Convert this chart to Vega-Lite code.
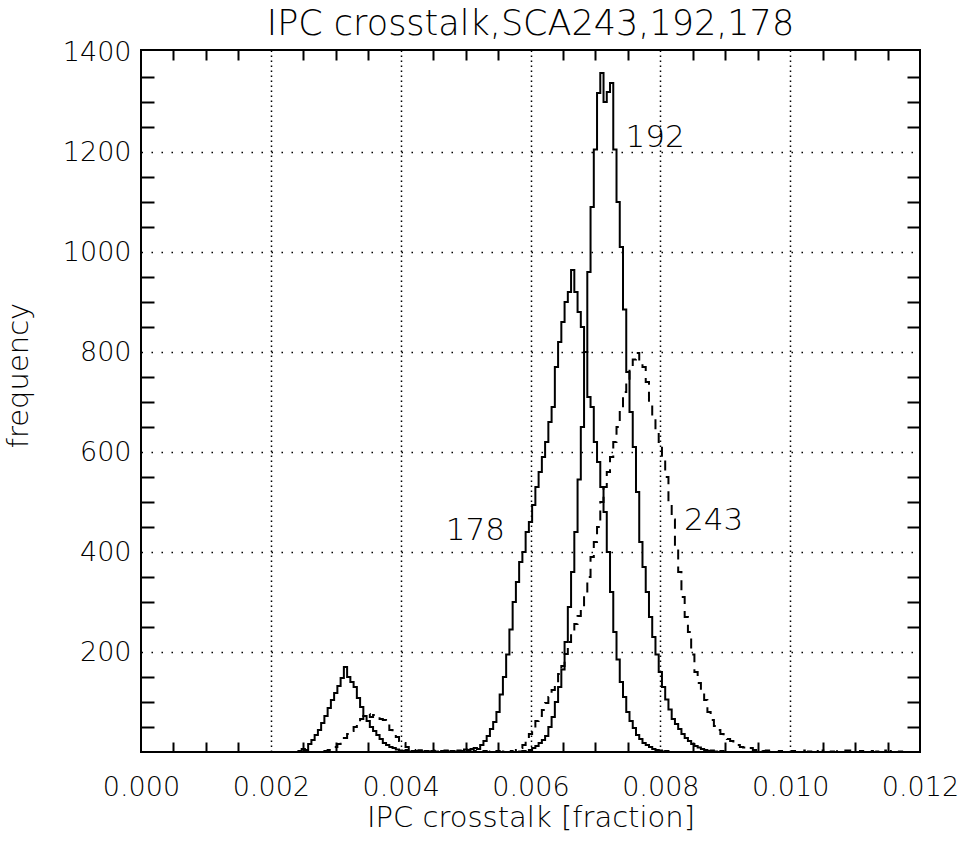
{
  "$schema": "https://vega.github.io/schema/vega-lite/v6.json",
  "width": 779,
  "height": 702,
  "autosize": "none",
  "padding": {"left": 141, "top": 50, "right": 44, "bottom": 91},
  "background": "white",
  "title": {"text": "IPC crosstalk,SCA243,192,178", "font": "DejaVu Sans", "fontSize": 35, "fontWeight": 200, "color": "black", "anchor": "middle", "frame": "group", "baseline": "alphabetic", "offset": -32},
  "config": {
    "view": {"stroke": "black", "strokeWidth": 2},
    "axis": {"domain": false, "labelFont": "DejaVu Sans", "labelFontSize": 27, "labelFontWeight": 200, "labelColor": "black", "titleFont": "DejaVu Sans", "titleFontSize": 29, "titleFontWeight": 200, "titleColor": "black", "tickColor": "black", "tickWidth": 2, "gridColor": "black", "gridOpacity": 1, "labelOverlap": false, "labelFlush": false, "labelBound": false}
  },
  "datasets": {
    "s178": [
      {"x":0.00240,"y":0},{"x":0.00245,"y":2},{"x":0.00250,"y":6},{"x":0.00255,"y":4},{"x":0.00260,"y":16},{"x":0.00265,"y":24},{"x":0.00270,"y":34},{"x":0.00275,"y":44},{"x":0.00280,"y":58},{"x":0.00285,"y":72},{"x":0.00290,"y":88},{"x":0.00295,"y":104},{"x":0.00300,"y":118},{"x":0.00305,"y":132},{"x":0.00310,"y":148},{"x":0.00315,"y":170},{"x":0.00320,"y":150},{"x":0.00325,"y":140},{"x":0.00330,"y":130},{"x":0.00335,"y":108},{"x":0.00340,"y":90},{"x":0.00345,"y":72},{"x":0.00350,"y":62},{"x":0.00355,"y":50},{"x":0.00360,"y":42},{"x":0.00365,"y":34},{"x":0.00370,"y":26},{"x":0.00375,"y":18},{"x":0.00380,"y":14},{"x":0.00385,"y":10},{"x":0.00390,"y":8},{"x":0.00395,"y":5},{"x":0.00400,"y":3},{"x":0.00405,"y":2},{"x":0.00410,"y":4},{"x":0.00415,"y":1},{"x":0.00420,"y":2},{"x":0.00425,"y":0},{"x":0.00430,"y":3},{"x":0.00435,"y":1},{"x":0.00440,"y":2},{"x":0.00445,"y":0},{"x":0.00450,"y":2},{"x":0.00455,"y":1},{"x":0.00460,"y":0},{"x":0.00465,"y":2},{"x":0.00470,"y":3},{"x":0.00475,"y":1},{"x":0.00480,"y":2},{"x":0.00485,"y":0},{"x":0.00490,"y":3},{"x":0.00495,"y":2},{"x":0.00500,"y":5},{"x":0.00505,"y":4},{"x":0.00510,"y":6},{"x":0.00515,"y":8},{"x":0.00520,"y":6},{"x":0.00525,"y":14},{"x":0.00530,"y":22},{"x":0.00535,"y":32},{"x":0.00540,"y":46},{"x":0.00545,"y":60},{"x":0.00550,"y":80},{"x":0.00555,"y":115},{"x":0.00560,"y":150},{"x":0.00565,"y":195},{"x":0.00570,"y":245},{"x":0.00575,"y":300},{"x":0.00580,"y":340},{"x":0.00585,"y":380},{"x":0.00590,"y":400},{"x":0.00595,"y":440},{"x":0.00600,"y":460},{"x":0.00605,"y":494},{"x":0.00610,"y":530},{"x":0.00615,"y":560},{"x":0.00620,"y":590},{"x":0.00625,"y":620},{"x":0.00630,"y":660},{"x":0.00635,"y":690},{"x":0.00640,"y":770},{"x":0.00645,"y":820},{"x":0.00650,"y":860},{"x":0.00655,"y":900},{"x":0.00660,"y":920},{"x":0.00665,"y":964},{"x":0.00670,"y":920},{"x":0.00675,"y":880},{"x":0.00680,"y":850},{"x":0.00685,"y":800},{"x":0.00690,"y":710},{"x":0.00695,"y":690},{"x":0.00700,"y":620},{"x":0.00705,"y":580},{"x":0.00710,"y":530},{"x":0.00715,"y":480},{"x":0.00720,"y":400},{"x":0.00725,"y":320},{"x":0.00730,"y":240},{"x":0.00735,"y":185},{"x":0.00740,"y":140},{"x":0.00745,"y":110},{"x":0.00750,"y":80},{"x":0.00755,"y":62},{"x":0.00760,"y":48},{"x":0.00765,"y":34},{"x":0.00770,"y":26},{"x":0.00775,"y":18},{"x":0.00780,"y":14},{"x":0.00785,"y":10},{"x":0.00790,"y":6},{"x":0.00795,"y":4},{"x":0.00800,"y":3},{"x":0.00805,"y":1},{"x":0.00810,"y":2},{"x":0.00815,"y":0}
    ],
    "s192": [
      {"x":0.00580,"y":0},{"x":0.00585,"y":1},{"x":0.00590,"y":2},{"x":0.00595,"y":0},{"x":0.00600,"y":4},{"x":0.00605,"y":8},{"x":0.00610,"y":12},{"x":0.00615,"y":18},{"x":0.00620,"y":24},{"x":0.00625,"y":32},{"x":0.00630,"y":50},{"x":0.00635,"y":70},{"x":0.00640,"y":100},{"x":0.00645,"y":130},{"x":0.00650,"y":165},{"x":0.00655,"y":220},{"x":0.00660,"y":290},{"x":0.00665,"y":360},{"x":0.00670,"y":440},{"x":0.00675,"y":545},{"x":0.00680,"y":650},{"x":0.00685,"y":800},{"x":0.00690,"y":960},{"x":0.00695,"y":1090},{"x":0.00700,"y":1205},{"x":0.00705,"y":1318},{"x":0.00710,"y":1358},{"x":0.00715,"y":1300},{"x":0.00720,"y":1320},{"x":0.00725,"y":1338},{"x":0.00730,"y":1205},{"x":0.00735,"y":1100},{"x":0.00740,"y":1010},{"x":0.00745,"y":885},{"x":0.00750,"y":760},{"x":0.00755,"y":680},{"x":0.00760,"y":610},{"x":0.00765,"y":520},{"x":0.00770,"y":420},{"x":0.00775,"y":370},{"x":0.00780,"y":320},{"x":0.00785,"y":270},{"x":0.00790,"y":230},{"x":0.00795,"y":195},{"x":0.00800,"y":160},{"x":0.00805,"y":130},{"x":0.00810,"y":105},{"x":0.00815,"y":85},{"x":0.00820,"y":66},{"x":0.00825,"y":56},{"x":0.00830,"y":46},{"x":0.00835,"y":36},{"x":0.00840,"y":28},{"x":0.00845,"y":22},{"x":0.00850,"y":16},{"x":0.00855,"y":12},{"x":0.00860,"y":9},{"x":0.00865,"y":6},{"x":0.00870,"y":4},{"x":0.00875,"y":2},{"x":0.00880,"y":3},{"x":0.00885,"y":1},{"x":0.00890,"y":0},{"x":0.00895,"y":2},{"x":0.00900,"y":0}
    ],
    "s243": [
      {"x":0.00280,"y":0},{"x":0.00285,"y":2},{"x":0.00290,"y":4},{"x":0.00295,"y":6},{"x":0.00300,"y":10},{"x":0.00305,"y":16},{"x":0.00310,"y":22},{"x":0.00315,"y":28},{"x":0.00320,"y":36},{"x":0.00325,"y":42},{"x":0.00330,"y":50},{"x":0.00335,"y":58},{"x":0.00340,"y":66},{"x":0.00345,"y":72},{"x":0.00350,"y":76},{"x":0.00355,"y":70},{"x":0.00360,"y":74},{"x":0.00365,"y":72},{"x":0.00370,"y":66},{"x":0.00375,"y":64},{"x":0.00380,"y":56},{"x":0.00385,"y":44},{"x":0.00390,"y":36},{"x":0.00395,"y":30},{"x":0.00400,"y":22},{"x":0.00405,"y":18},{"x":0.00410,"y":10},{"x":0.00415,"y":8},{"x":0.00420,"y":4},{"x":0.00425,"y":2},{"x":0.00430,"y":3},{"x":0.00435,"y":0},{"x":0.00440,"y":2},{"x":0.00445,"y":1},{"x":0.00450,"y":0},{"x":0.00455,"y":3},{"x":0.00460,"y":0},{"x":0.00465,"y":1},{"x":0.00470,"y":0},{"x":0.00475,"y":2},{"x":0.00480,"y":0},{"x":0.00485,"y":1},{"x":0.00490,"y":0},{"x":0.00495,"y":2},{"x":0.00500,"y":0},{"x":0.00505,"y":1},{"x":0.00510,"y":0},{"x":0.00515,"y":2},{"x":0.00520,"y":1},{"x":0.00525,"y":0},{"x":0.00530,"y":2},{"x":0.00535,"y":0},{"x":0.00540,"y":1},{"x":0.00545,"y":0},{"x":0.00550,"y":2},{"x":0.00555,"y":0},{"x":0.00560,"y":1},{"x":0.00565,"y":0},{"x":0.00570,"y":2},{"x":0.00575,"y":0},{"x":0.00580,"y":4},{"x":0.00585,"y":8},{"x":0.00590,"y":14},{"x":0.00595,"y":24},{"x":0.00600,"y":36},{"x":0.00605,"y":48},{"x":0.00610,"y":62},{"x":0.00615,"y":72},{"x":0.00620,"y":84},{"x":0.00625,"y":98},{"x":0.00630,"y":110},{"x":0.00635,"y":124},{"x":0.00640,"y":138},{"x":0.00645,"y":156},{"x":0.00650,"y":172},{"x":0.00655,"y":196},{"x":0.00660,"y":220},{"x":0.00665,"y":238},{"x":0.00670,"y":256},{"x":0.00675,"y":272},{"x":0.00680,"y":290},{"x":0.00685,"y":318},{"x":0.00690,"y":350},{"x":0.00695,"y":390},{"x":0.00700,"y":420},{"x":0.00705,"y":450},{"x":0.00710,"y":500},{"x":0.00715,"y":530},{"x":0.00720,"y":560},{"x":0.00725,"y":590},{"x":0.00730,"y":620},{"x":0.00735,"y":650},{"x":0.00740,"y":680},{"x":0.00745,"y":720},{"x":0.00750,"y":740},{"x":0.00755,"y":770},{"x":0.00760,"y":785},{"x":0.00765,"y":798},{"x":0.00770,"y":780},{"x":0.00775,"y":770},{"x":0.00780,"y":740},{"x":0.00785,"y":700},{"x":0.00790,"y":670},{"x":0.00795,"y":640},{"x":0.00800,"y":620},{"x":0.00805,"y":590},{"x":0.00810,"y":550},{"x":0.00815,"y":500},{"x":0.00820,"y":465},{"x":0.00825,"y":410},{"x":0.00830,"y":360},{"x":0.00835,"y":310},{"x":0.00840,"y":270},{"x":0.00845,"y":240},{"x":0.00850,"y":195},{"x":0.00855,"y":160},{"x":0.00860,"y":138},{"x":0.00865,"y":118},{"x":0.00870,"y":104},{"x":0.00875,"y":80},{"x":0.00880,"y":64},{"x":0.00885,"y":52},{"x":0.00890,"y":44},{"x":0.00895,"y":36},{"x":0.00900,"y":28},{"x":0.00905,"y":26},{"x":0.00910,"y":22},{"x":0.00915,"y":16},{"x":0.00920,"y":14},{"x":0.00925,"y":10},{"x":0.00930,"y":9},{"x":0.00935,"y":6},{"x":0.00940,"y":8},{"x":0.00945,"y":4},{"x":0.00950,"y":3},{"x":0.00955,"y":5},{"x":0.00960,"y":2},{"x":0.00965,"y":3},{"x":0.00970,"y":1},{"x":0.00975,"y":2},{"x":0.00980,"y":0},{"x":0.00985,"y":2},{"x":0.00990,"y":0},{"x":0.00995,"y":1},{"x":0.01000,"y":0},{"x":0.01005,"y":2},{"x":0.01010,"y":0},{"x":0.01020,"y":3},{"x":0.01025,"y":0},{"x":0.01030,"y":1},{"x":0.01035,"y":0},{"x":0.01040,"y":2},{"x":0.01045,"y":0},{"x":0.01055,"y":3},{"x":0.01060,"y":0},{"x":0.01065,"y":1},{"x":0.01070,"y":0},{"x":0.01075,"y":2},{"x":0.01080,"y":0},{"x":0.01090,"y":3},{"x":0.01095,"y":0},{"x":0.01100,"y":1},{"x":0.01105,"y":0},{"x":0.01110,"y":2},{"x":0.01115,"y":0},{"x":0.01125,"y":2},{"x":0.01130,"y":0},{"x":0.01135,"y":1},{"x":0.01140,"y":0},{"x":0.01145,"y":3},{"x":0.01150,"y":0},{"x":0.01160,"y":2},{"x":0.01165,"y":0},{"x":0.01170,"y":1},{"x":0.01175,"y":0}
    ],
    "labels": [
      {"x":0.00792,"y":1229,"t":"192"},
      {"x":0.00515,"y":442,"t":"178"},
      {"x":0.00882,"y":463,"t":"243"}
    ]
  },
  "resolve": {"axis": {"x": "independent", "y": "independent"}},
  "layer": [
    {
      "data": {"name": "labels"},
      "mark": {"type": "text", "font": "DejaVu Sans", "fontSize": 31, "fontWeight": 200, "color": "black", "align": "center", "baseline": "middle"},
      "encoding": {
        "x": {"field": "x", "type": "quantitative", "scale": {"domain": [0, 0.012], "nice": false, "zero": false},
          "axis": {"orient": "bottom", "grid": true, "gridDash": [1.5, 3.5], "gridWidth": 1.5, "values": [0.002, 0.004, 0.006, 0.008, 0.010], "labels": false, "ticks": false, "title": null}},
        "y": {"field": "y", "type": "quantitative", "scale": {"domain": [0, 1404], "nice": false, "zero": true},
          "axis": {"orient": "left", "grid": true, "gridDash": [1.5, 8.5], "gridWidth": 1.5, "values": [200, 400, 600, 800, 1000, 1200], "labels": false, "ticks": false, "title": null}},
        "text": {"field": "t", "type": "nominal"}
      }
    },
    {
      "data": {"name": "s178"},
      "mark": {"type": "line", "interpolate": "step", "color": "black", "strokeWidth": 2},
      "encoding": {
        "x": {"field": "x", "type": "quantitative", "scale": {"domain": [0, 0.012], "nice": false, "zero": false},
          "axis": {"orient": "bottom", "values": [0, 0.002, 0.004, 0.006, 0.008, 0.010, 0.012], "format": ".3f", "ticks": false, "tickSize": 0, "labelPadding": 22, "grid": false, "title": "IPC crosstalk [fraction]", "titlePadding": 3}},
        "y": {"field": "y", "type": "quantitative", "scale": {"domain": [0, 1404], "nice": false, "zero": true},
          "axis": {"orient": "left", "values": [200, 400, 600, 800, 1000, 1200, 1400], "format": "d", "ticks": false, "tickSize": 0, "labelPadding": 10, "grid": false, "title": "frequency", "titlePadding": 29, "titleY": 325}}
      }
    },
    {
      "data": {"name": "s192"},
      "mark": {"type": "line", "interpolate": "step", "color": "black", "strokeWidth": 2},
      "encoding": {
        "x": {"field": "x", "type": "quantitative", "scale": {"domain": [0, 0.012], "nice": false, "zero": false},
          "axis": {"orient": "bottom", "values": [0.0005, 0.001, 0.0015, 0.0025, 0.003, 0.0035, 0.0045, 0.005, 0.0055, 0.0065, 0.007, 0.0075, 0.0085, 0.009, 0.0095, 0.0105, 0.011, 0.0115], "tickSize": -10, "labels": false, "grid": false, "title": null}},
        "y": {"field": "y", "type": "quantitative", "scale": {"domain": [0, 1404], "nice": false, "zero": true},
          "axis": {"orient": "left", "values": [50, 100, 150, 250, 300, 350, 450, 500, 550, 650, 700, 750, 850, 900, 950, 1050, 1100, 1150, 1250, 1300, 1350], "tickSize": -13, "labels": false, "grid": false, "title": null}}
      }
    },
    {
      "data": {"name": "s243"},
      "mark": {"type": "line", "interpolate": "step", "color": "black", "strokeWidth": 2, "strokeDash": [10, 7]},
      "encoding": {
        "x": {"field": "x", "type": "quantitative", "scale": {"domain": [0, 0.012], "nice": false, "zero": false},
          "axis": {"orient": "top", "values": [0.0005, 0.001, 0.0015, 0.0025, 0.003, 0.0035, 0.0045, 0.005, 0.0055, 0.0065, 0.007, 0.0075, 0.0085, 0.009, 0.0095, 0.0105, 0.011, 0.0115], "tickSize": -10, "labels": false, "grid": false, "title": null}},
        "y": {"field": "y", "type": "quantitative", "scale": {"domain": [0, 1404], "nice": false, "zero": true},
          "axis": {"orient": "right", "values": [50, 100, 150, 250, 300, 350, 450, 500, 550, 650, 700, 750, 850, 900, 950, 1050, 1100, 1150, 1250, 1300, 1350], "tickSize": -13, "labels": false, "grid": false, "title": null}}
      }
    }
  ]
}
